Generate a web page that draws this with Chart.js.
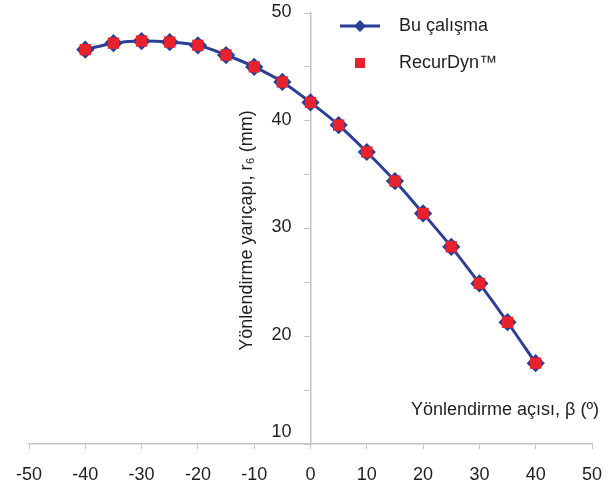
<!DOCTYPE html>
<html>
<head>
<meta charset="utf-8">
<script src="https://cdn.jsdelivr.net/npm/chart.js@4.4.1/dist/chart.umd.min.js"></script>
<style>
  html, body { margin: 0; background: #fff; }
  #wrap { width: 613px; height: 489px; }
</style>
</head>
<body>
<div id="wrap"><canvas id="chart"></canvas></div>
<script>
// angle beta (deg) vs. guide radius (mm)
const angles = [-40, -35, -30, -25, -20, -15, -10, -5, 0, 5, 10, 15, 20, 25, 30, 35, 40];
const buCalisma = [46.6, 47.2, 47.4, 47.3, 47.0, 46.1, 45.0, 43.6, 41.7, 39.6, 37.1, 34.4, 31.4, 28.3, 24.9, 21.3, 17.5];
const recurDyn = [46.6, 47.2, 47.4, 47.3, 47.0, 46.1, 45.0, 43.6, 41.7, 39.6, 37.1, 34.4, 31.4, 28.3, 24.9, 21.3, 17.5];
const xTickValues = [-50, -40, -30, -20, -10, 0, 10, 20, 30, 40, 50];
const yLabelValues = [10, 20, 30, 40, 50];

const seriesNames = ['Bu çalışma', 'RecurDyn™'];
const xTitle = 'Yönlendirme açısı, β (º)';
const yTitle = 'Yönlendirme yarıçapı, r₆ (mm)';

const blue = '#2b3f96';
const red = '#e8222c';
const axisGrey = '#c4c4c4';
const textColor = '#1e1e1e';
const fontFamily = "'Liberation Sans', Arial, sans-serif";
const font = '18px ' + fontFamily;

Chart.defaults.font.family = fontFamily;
Chart.defaults.font.size = 18;
Chart.defaults.color = textColor;

const toPoints = (ys) => angles.map((a, i) => ({ x: a, y: ys[i] }));

// the y axis sits at x = 0, Chart.js puts its labels right on the line,
// so they are drawn here with a gap instead
const extras = {
    id: 'extras',
    afterDraw(chart) {
        const { ctx, chartArea, scales } = chart;
        const x0 = scales.x.getPixelForValue(0);
        ctx.save();
        ctx.fillStyle = textColor;
        ctx.font = font;

        ctx.textAlign = 'right';
        ctx.textBaseline = 'middle';
        yLabelValues.forEach((v) => {
            // lowest label is lifted off the x axis, as in the original
            const lift = v === scales.y.min ? 12 : 1;
            ctx.fillText(String(v), x0 - 19, scales.y.getPixelForValue(v) - lift);
        });

        // x title inside the plot, bottom right
        ctx.fillText(xTitle, chartArea.right + 7, chartArea.bottom - 34);

        // y title, rotated
        ctx.save();
        ctx.translate(x0 - 63, (chartArea.top + chartArea.bottom) / 2 + 2);
        ctx.rotate(-Math.PI / 2);
        ctx.textAlign = 'center';
        ctx.fillText(yTitle, 0, 0);
        ctx.restore();

        // legend
        const lx = 340;
        const ly1 = 26;
        const ly2 = 63;
        ctx.strokeStyle = blue;
        ctx.lineWidth = 3;
        ctx.beginPath();
        ctx.moveTo(lx, ly1);
        ctx.lineTo(lx + 40, ly1);
        ctx.stroke();
        ctx.fillStyle = blue;
        ctx.beginPath();
        ctx.moveTo(lx + 20, ly1 - 6);
        ctx.lineTo(lx + 26, ly1);
        ctx.lineTo(lx + 20, ly1 + 6);
        ctx.lineTo(lx + 14, ly1);
        ctx.closePath();
        ctx.fill();
        ctx.fillStyle = red;
        ctx.fillRect(lx + 15, ly2 - 5, 10, 10);

        ctx.fillStyle = textColor;
        ctx.textAlign = 'left';
        ctx.fillText(seriesNames[0], lx + 59, ly1);
        ctx.fillText(seriesNames[1], lx + 59, ly2);
        ctx.restore();
    },
};

new Chart(document.getElementById('chart'), {
    type: 'scatter',
    data: {
        datasets: [
            {
                label: seriesNames[1],
                data: toPoints(recurDyn),
                showLine: false,
                pointStyle: 'rect',
                pointRadius: 8,
                pointBackgroundColor: red,
                pointBorderColor: red,
                pointBorderWidth: 0,
                order: 0,
            },
            {
                label: seriesNames[0],
                data: toPoints(buCalisma),
                showLine: true,
                borderColor: blue,
                borderWidth: 3,
                cubicInterpolationMode: 'monotone',
                pointStyle: 'rectRot',
                pointRadius: 7,
                pointBackgroundColor: blue,
                pointBorderColor: blue,
                order: 1,
            },
        ],
    },
    options: {
        responsive: true,
        maintainAspectRatio: false,
        animation: false,
        layout: { padding: { left: 29, right: 21, top: 13, bottom: 6 } },
        plugins: {
            legend: { display: false },
            tooltip: { enabled: false },
        },
        scales: {
            x: {
                type: 'linear',
                min: -50,
                max: 50,
                afterBuildTicks: (axis) => {
                    axis.ticks = xTickValues.map((v) => ({ value: v }));
                },
                afterFit: (axis) => {
                    axis.height = 39;
                    axis.paddingLeft = 0;
                    axis.paddingRight = 0;
                },
                ticks: { padding: 15, maxRotation: 0, autoSkip: false, color: textColor },
                grid: { drawOnChartArea: false, drawTicks: true, tickLength: 5, color: axisGrey },
                border: { color: axisGrey, width: 1.5 },
            },
            y: {
                type: 'linear',
                position: { x: 0 },
                min: 10,
                max: 50,
                ticks: { stepSize: 5, autoSkip: false, display: false },
                grid: { drawOnChartArea: false, drawTicks: true, tickLength: 6, color: axisGrey },
                border: { color: axisGrey, width: 1.5 },
            },
        },
    },
    plugins: [extras],
});
</script>
</body>
</html>
